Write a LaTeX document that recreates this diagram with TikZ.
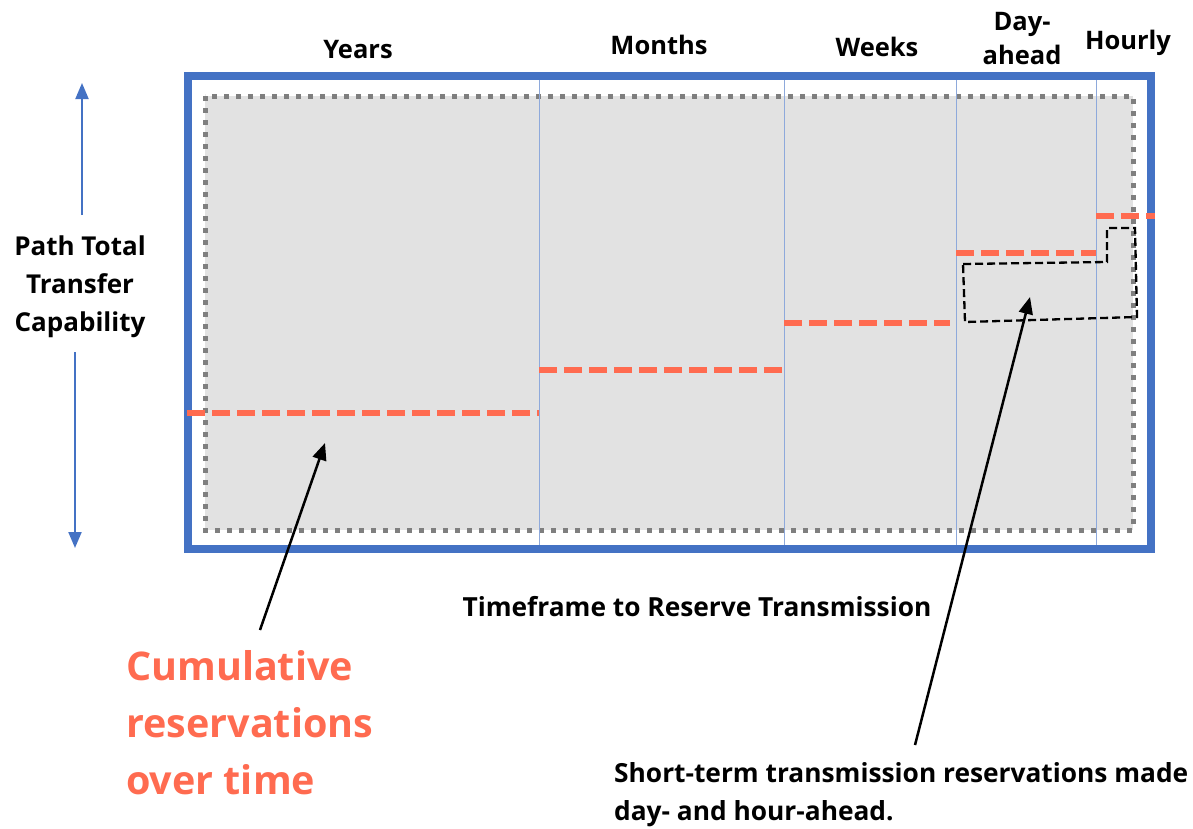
\documentclass[tikz,border=0pt]{standalone}
\usepackage{fontspec}
\setmainfont{Open Sans}
\usetikzlibrary{arrows.meta}
\definecolor{frameblue}{HTML}{4472C4}
\definecolor{lineblue}{HTML}{8EA9DB}
\definecolor{resred}{HTML}{FF6B50}
\definecolor{fillgray}{HTML}{E2E2E2}
\definecolor{dotgray}{HTML}{7F7F7F}
\tikzset{
  hdr/.style={font=\bfseries\fontsize{25.5}{34}\selectfont, align=center, inner sep=0pt},
  reserve/.style={resred, line width=5.5pt, dash pattern=on 18pt off 7pt},
  divider/.style={lineblue, line width=1pt},
  pointer/.style={black, line width=2.5pt, -{Triangle[length=17pt,width=14pt]}},
  vblue/.style={frameblue, line width=2pt, -{Triangle[length=16pt,width=13pt]}},
}
\begin{document}
\begin{tikzpicture}[x=1pt,y=-1pt]
\useasboundingbox (0,0) rectangle (1193,828);
% gray region
\fill[fillgray] (205,96) rectangle (1133,530);
\draw[dotgray, line width=5pt, dash pattern=on 5pt off 7pt] (205,96) rectangle (1133,530);
% dividers
\foreach \x in {539,784,956,1096} \draw[divider] (\x,80) -- (\x,545);
% frame
\draw[frameblue, line width=8pt] (187.5,76) rectangle (1151,549);
% reservation levels
\draw[reserve] (187,413) -- (539,413);
\draw[reserve] (539,370) -- (784,370);
\draw[reserve] (784,323) -- (950,323);
\draw[reserve] (956,253) -- (1096,253);
\draw[reserve] (1096,216) -- (1155,216);
% short-term region
\draw[black, line width=2.3pt, dash pattern=on 8pt off 4pt] (963,264) -- (1107,262) -- (1107,228) -- (1135,228) -- (1137,317) -- (965,322) -- cycle;
% headers
\node[hdr] (years) at (358,50) {Years};
\node[hdr] (months) at (659,45) {Months};
\node[hdr] (weeks) at (877,47) {Weeks};
\node[hdr] (dayahead) at (1022,39) {Day-\\ahead};
\node[hdr] (hourly) at (1128,43) {Hourly};
% axis label
\node[font=\bfseries\fontsize{26}{38}\selectfont, align=center, inner sep=0pt] (ttc) at (80,287) {Path Total\\Transfer\\Capability};
\coordinate (uptop) at (82,83);
\coordinate (upbot) at (82,215);
\coordinate (dntop) at (75,352);
\coordinate (dnbot) at (75,548);
\draw[vblue] (upbot) -- (uptop);
\draw[vblue] (dntop) -- (dnbot);
% timeframe label
\node[font=\bfseries\fontsize{26.3}{30}\selectfont, inner sep=0pt] (tf) at (697,607) {Timeframe to Reserve Transmission};
% cumulative
\node[font=\bfseries\fontsize{39.5}{57}\selectfont, text=resred, align=left, anchor=north west, inner sep=0pt] (cum) at (126,650) {Cumulative\\reservations\\over time};
\coordinate (cumtip) at (325,443);
\coordinate (cumtail) at (260,630);
\draw[pointer] (cumtail) -- (cumtip);
% short-term
\node[font=\bfseries\fontsize{26.3}{38}\selectfont, align=left, anchor=north west, inner sep=0pt] (st) at (614,762) {Short-term transmission reservations made\\day- and hour-ahead.};
\coordinate (sttip) at (1030,297);
\coordinate (sttail) at (915,745);
\draw[pointer] (sttail) -- (sttip);
\end{tikzpicture}
\end{document}
